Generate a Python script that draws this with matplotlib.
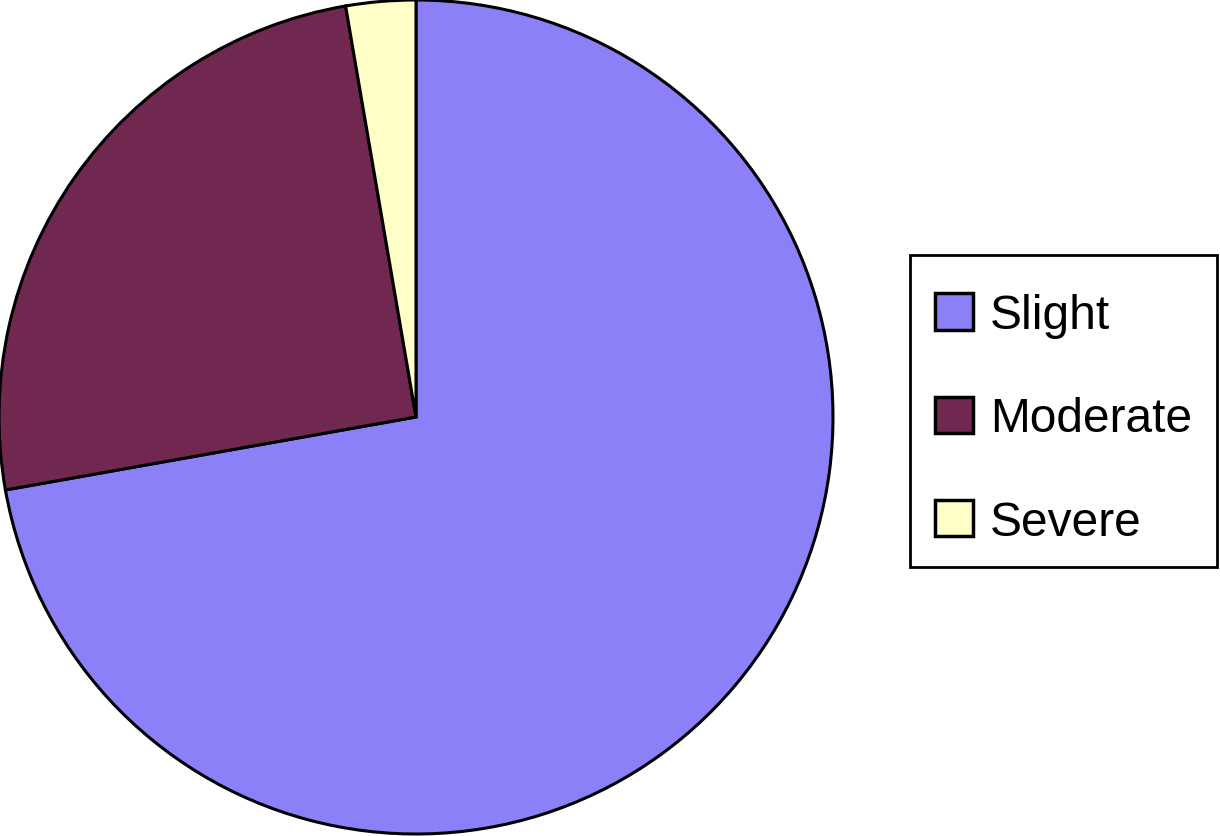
import matplotlib.pyplot as plt
from matplotlib.patches import Rectangle

# Share of cases by severity
labels = ['Slight', 'Moderate', 'Severe']
values = [72.2, 25.1, 2.7]
colors = ['#8B80F8', '#702851', '#FFFFC8']

plt.rcParams['font.family'] = ['Liberation Sans', 'DejaVu Sans']

W, H = 1220, 837
fig = plt.figure(figsize=(W / 100, H / 100), dpi=100)

# pie axes placed so the circle sits at the left of the figure
cx, cy, r = 416, 418, 417
ax = fig.add_axes([(cx - r) / W, (H - cy - r) / H, 2 * r / W, 2 * r / H])
wedges, _ = ax.pie(values, colors=colors, startangle=90, counterclock=False,
                   wedgeprops={'edgecolor': 'black', 'linewidth': 2.2})
for w in wedges:
    w.set_clip_on(False)
ax.set_xlim(-1, 1)
ax.set_ylim(-1, 1)
ax.set_aspect('equal')
ax.axis('off')

# legend entries without frame, box drawn separately
leg = fig.legend(wedges, labels, loc='center left',
                 bbox_to_anchor=(935 / W, 1 - 420 / H),
                 fontsize=34.5, frameon=False,
                 handlelength=0.79, handleheight=0.79,
                 handletextpad=0.35, labelspacing=1.22, borderpad=0,
                 borderaxespad=0)
for h in leg.legend_handles:
    h.set_linewidth(2.5)

fig.patches.append(Rectangle((910 / W, 1 - 568 / H), 307 / W, 312 / H,
                             transform=fig.transFigure, fill=False,
                             edgecolor='black', linewidth=2))

fig.savefig('out.png', dpi=100)
